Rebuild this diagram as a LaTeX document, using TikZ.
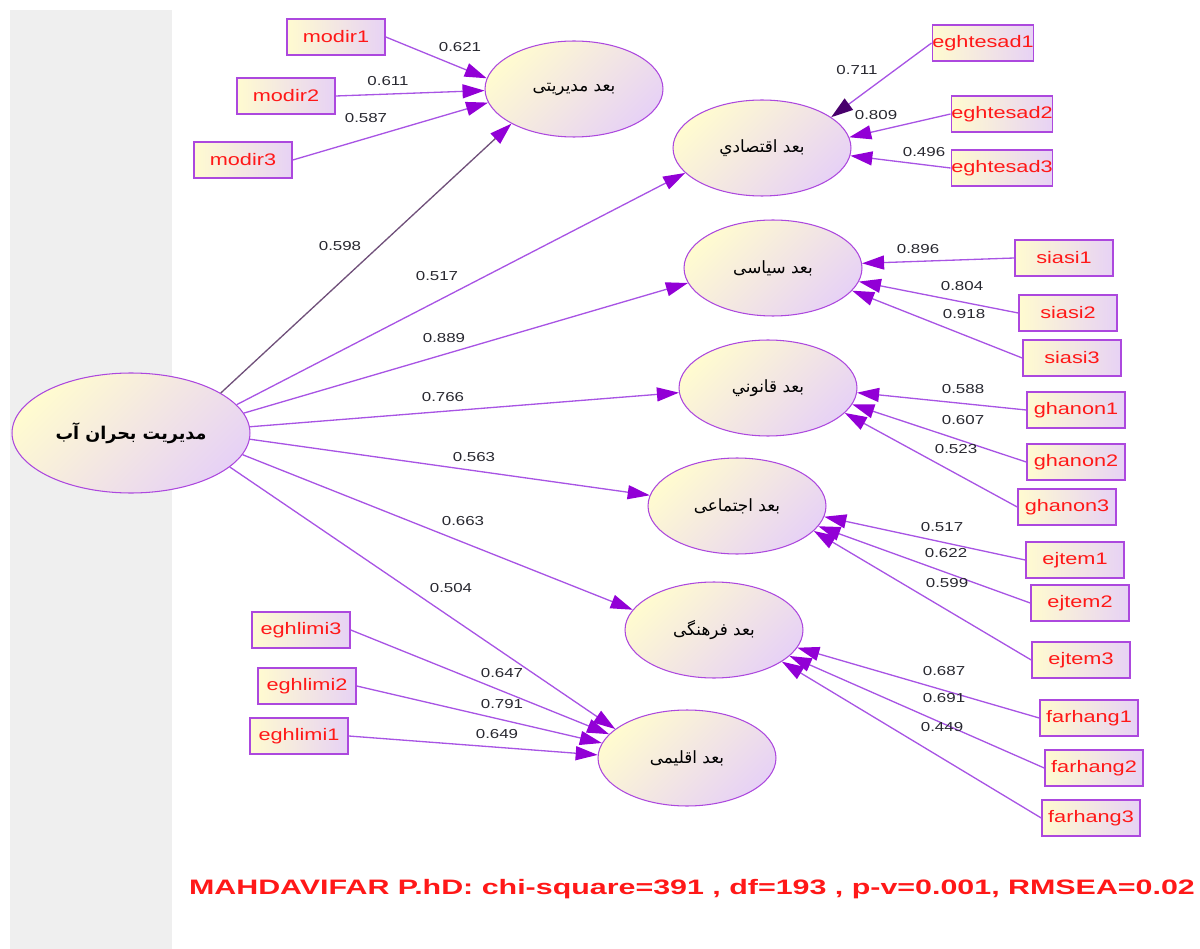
\documentclass[tikz,border=0pt]{standalone}
\usepackage{fontspec}
\usepackage{graphicx}
\usetikzlibrary{arrows.meta,shapes.geometric}
\setmainfont{Liberation Sans}
\newfontfamily\latinwide[FakeStretch=1.3]{Liberation Sans}
\newfontfamily\farsi[Script=Arabic]{DejaVu Sans}
\TeXXeTstate=1

\definecolor{panelgray}{RGB}{239,239,239}
\definecolor{linec}{RGB}{168,84,228}
\definecolor{tipc}{RGB}{146,0,214}
\definecolor{borderc}{RGB}{172,72,222}
\definecolor{darkline}{RGB}{112,80,122}
\definecolor{darktip}{RGB}{72,0,108}
\definecolor{yelc}{RGB}{255,251,208}
\definecolor{lavc}{RGB}{231,210,245}
\definecolor{boxred}{RGB}{255,24,24}
\definecolor{coefc}{RGB}{40,40,48}

\tikzset{
  latent/.style={ellipse, draw=borderc, line width=0.6pt, inner sep=0pt,
    minimum width=3.56cm, minimum height=1.92cm,
    left color=yelc, right color=lavc, shading angle=45,
    font=\farsi\fontsize{9.6}{11}\selectfont},
  mainlatent/.style={latent, minimum width=4.76cm, minimum height=2.4cm,
    font=\farsi\bfseries\fontsize{10}{12}\selectfont},
  obsbox/.style={rectangle, draw=borderc, line width=0.9pt, inner sep=0pt,
    minimum width=1.96cm, minimum height=0.72cm,
    left color=yelc, right color=lavc, text=boxred,
    font=\latinwide\fontsize{9.5}{11}\selectfont},
  coef/.style={inner sep=0pt, text=coefc, font=\latinwide\fontsize{7.4}{9}\selectfont},
  loadarrow/.style={draw=linec, line width=0.75pt,
    -{Triangle[length=0.44cm,width=0.28cm,color=tipc]}},
}

\begin{document}
\begin{tikzpicture}[x=0.02cm, y=-0.02cm]
\useasboundingbox (0,0) rectangle (1200,949);
\fill[panelgray] (10,10) rectangle (172,949);

% latent variables
\node[mainlatent] (main) at (131,433) {\beginR مدیریت بحران آب\endR};
\node[latent] (lm) at (574,89)  {\beginR بعد مدیریتی\endR};
\node[latent] (le) at (762,148) {\beginR بعد اقتصادي\endR};
\node[latent] (ls) at (773,268) {\beginR بعد سیاسی\endR};
\node[latent] (lg) at (768,388) {\beginR بعد قانوني\endR};
\node[latent] (lj) at (737,506) {\beginR بعد اجتماعی\endR};
\node[latent] (lf) at (714,630) {\beginR بعد فرهنگی\endR};
\node[latent] (ll) at (687,758) {\beginR بعد اقلیمی\endR};

% observed indicators
\node[obsbox] (m1) at (336,37)  {modir1};
\node[obsbox] (m2) at (286,96)  {modir2};
\node[obsbox] (m3) at (243,160) {modir3};
\node[obsbox] (e1) at (983,43)  {eghtesad1};
\node[obsbox] (e2) at (1002,114) {eghtesad2};
\node[obsbox] (e3) at (1002,168) {eghtesad3};
\node[obsbox] (s1) at (1064,258) {siasi1};
\node[obsbox] (s2) at (1068,313) {siasi2};
\node[obsbox] (s3) at (1072,358) {siasi3};
\node[obsbox] (g1) at (1076,410) {ghanon1};
\node[obsbox] (g2) at (1076,462) {ghanon2};
\node[obsbox] (g3) at (1067,507) {ghanon3};
\node[obsbox] (j1) at (1075,560) {ejtem1};
\node[obsbox] (j2) at (1080,603) {ejtem2};
\node[obsbox] (j3) at (1081,660) {ejtem3};
\node[obsbox] (f1) at (1089,718) {farhang1};
\node[obsbox] (f2) at (1094,768) {farhang2};
\node[obsbox] (f3) at (1091,818) {farhang3};
\node[obsbox] (l3) at (301,630) {eghlimi3};
\node[obsbox] (l2) at (307,686) {eghlimi2};
\node[obsbox] (l1) at (299,736) {eghlimi1};

% structural paths
\draw[loadarrow, draw=darkline] (main.24) -- (lm.209);
\draw[loadarrow] (main.15)  -- (le.198);
\draw[loadarrow] (main.10)  -- (ls.190);
\draw[loadarrow] (main.3)   -- (lg.183);
\draw[loadarrow] (main.-3)  -- (lj.173);
\draw[loadarrow] (main.-11) -- (lf.166);
\draw[loadarrow] (main.-19) -- (ll.158);

% measurement paths
\draw[loadarrow] (m1.east) -- (lm.173);
\draw[loadarrow] (m2.east) -- (lm.181);
\draw[loadarrow] (m3.east) -- (lm.189);
\draw[draw=linec, line width=0.75pt, -{Triangle[length=0.44cm,width=0.28cm,color=darktip]}] (e1.west) -- (le.24);
\draw[loadarrow] (e2.west) -- (le.7);
\draw[loadarrow] (e3.west) -- (le.-5);
\draw[loadarrow] (s1.west) -- (ls.3);
\draw[loadarrow] (s2.west) -- (ls.-9);
\draw[loadarrow] (s3.west) -- (ls.-16);
\draw[loadarrow] (g1.west) -- (lg.-3);
\draw[loadarrow] (g2.west) -- (lg.-11);
\draw[loadarrow] (g3.west) -- (lg.-18);
\draw[loadarrow] (j1.west) -- (lj.-7);
\draw[loadarrow] (j2.west) -- (lj.-14);
\draw[loadarrow] (j3.west) -- (lj.-18);
\draw[loadarrow] (f1.west) -- (lf.-12);
\draw[loadarrow] (f2.west) -- (lf.-19);
\draw[loadarrow] (f3.west) -- (lf.-25);
\draw[loadarrow] (l3.east) -- (ll.163);
\draw[loadarrow] (l2.east) -- (ll.170);
\draw[loadarrow] (l1.east) -- (ll.178);

% coefficients
\node[coef] (c621) at (460,47)  {0.621};
\node[coef] (c611) at (388,81)  {0.611};
\node[coef] (c587) at (366,118) {0.587};
\node[coef] (c598) at (340,246) {0.598};
\node[coef] (c517a) at (437,276) {0.517};
\node[coef] (c889) at (444,338) {0.889};
\node[coef] (c766) at (443,397) {0.766};
\node[coef] (c563) at (474,457) {0.563};
\node[coef] (c663) at (463,521) {0.663};
\node[coef] (c504) at (451,588) {0.504};
\node[coef] (c711) at (857,70)  {0.711};
\node[coef] (c809) at (876,115) {0.809};
\node[coef] (c496) at (924,152) {0.496};
\node[coef] (c896) at (918,249) {0.896};
\node[coef] (c804) at (962,286) {0.804};
\node[coef] (c918) at (964,314) {0.918};
\node[coef] (c588) at (963,389) {0.588};
\node[coef] (c607) at (963,420) {0.607};
\node[coef] (c523) at (956,449) {0.523};
\node[coef] (c517b) at (942,527) {0.517};
\node[coef] (c622) at (946,553) {0.622};
\node[coef] (c599) at (947,583) {0.599};
\node[coef] (c687) at (944,671) {0.687};
\node[coef] (c691) at (944,698) {0.691};
\node[coef] (c449) at (942,727) {0.449};
\node[coef] (c647) at (502,673) {0.647};
\node[coef] (c791) at (502,704) {0.791};
\node[coef] (c649) at (497,734) {0.649};

% fit summary
\node[inner sep=0pt, text=boxred, font=\bfseries\fontsize{11.9}{14}\selectfont] (fit) at (692,889)
  {\resizebox{20.12cm}{\height}{MAHDAVIFAR P.hD: chi-square=391 , df=193 , p-v=0.001, RMSEA=0.02}};
\end{tikzpicture}
\end{document}
